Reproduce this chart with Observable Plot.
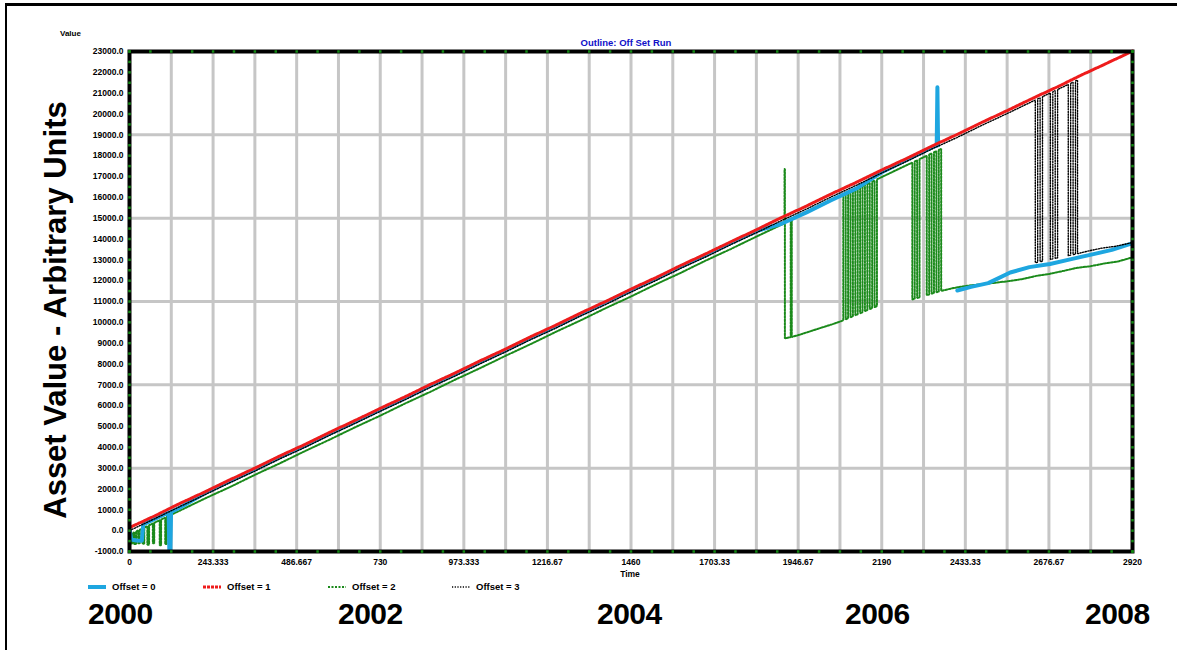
<!DOCTYPE html>
<html>
<head>
<meta charset="utf-8">
<script src="https://cdn.jsdelivr.net/npm/d3@7"></script>
<script src="https://cdn.jsdelivr.net/npm/@observablehq/plot@0.6"></script>
<style>
  html, body { margin: 0; padding: 0; background: #fff; }
  body { width: 1177px; height: 650px; position: relative; overflow: hidden; font-family: "Liberation Sans", Arial, sans-serif; }
  .abs { position: absolute; white-space: nowrap; }
  #frame { position: absolute; left: 5px; top: 3px; width: 1200px; height: 700px; border-left: 2px solid #000; border-top: 3px solid #000; }
  #chart { position: absolute; left: 0; top: 0; }
  .year { position: absolute; top: 597px; font: bold 30px "Liberation Sans", Arial, sans-serif; color: #000; letter-spacing: -0.5px; }
  .leg { position: absolute; top: 581px; font: bold 9.5px "Liberation Sans", Arial, sans-serif; color: #000; display: flex; align-items: center; gap: 6px; }
</style>
</head>
<body>
<div id="frame"></div>
<div id="chart"></div>
<div class="abs" style="left:60px; top:29px; font: bold 8px 'Liberation Sans', Arial, sans-serif;">Value</div>
<div class="abs" style="left:626px; top:37px; transform: translateX(-50%); font: bold 9.5px 'Liberation Sans', Arial, sans-serif; color:#1010c8;">Outline: Off Set Run</div>
<div class="abs" style="left:56px; top:310px; transform: translate(-50%,-50%) rotate(-90deg); font: bold 31px 'Liberation Sans', Arial, sans-serif; color:#000;">Asset Value - Arbitrary Units</div>
<div class="abs" style="left:630px; top:569px; transform: translateX(-50%); font: bold 8.5px 'Liberation Sans', Arial, sans-serif;">Time</div>
<div id="legend"></div>
<div id="years"></div>
<script>
// ---- data (x = days since start, y = asset value) ----
const seriesNames = ["Offset = 0", "Offset = 1", "Offset = 2", "Offset = 3"];
const seriesColors = ["#1ea6e0", "#ee1c1c", "#1b8a1b", "#000000"];
const yearLabels = ["2000", "2002", "2004", "2006", "2008"];
const yearLeft = [88, 338, 597, 845, 1085];

const offset1 = [[0,147],[73,705],[146,1300],[219,1858],[292,2440],[365,3001],[438,3590],[511,4140],[584,4731],[657,5290],[730,5872],[803,6430],[876,7020],[949,7575],[1022,8160],[1095,8719],[1168,9310],[1241,9862],[1314,10450],[1387,11008],[1460,11595],[1533,12150],[1606,12740],[1679,13296],[1752,13880],[1825,14440],[1898,15027],[1971,15583],[2044,16170],[2117,16728],[2190,17313],[2263,17870],[2336,18460],[2409,19015],[2482,19603],[2555,20160],[2628,20745],[2701,21300],[2774,21890],[2847,22448],[2920,23020]];

const offset0 = [[0,60],[5,-420],[20,-470],[36,-480],[40,300],[73,560],[114,870],[116,-1000],[119,-1000],[121,900],[146,1100],[219,1800],[292,2375],[365,2940],[438,3530],[511,4080],[584,4670],[657,5230],[730,5810],[803,6370],[876,6960],[949,7515],[1022,8100],[1095,8660],[1168,9250],[1241,9800],[1314,10390],[1387,10950],[1460,11540],[1533,12090],[1606,12680],[1679,13240],[1752,13820],[1825,14380],[1898,14730],[1971,15280],[2044,15870],[2117,16430],[2190,17200],[2263,17810],[2336,18400],[2350,18480],[2352,21280],[2354,18500],[2380,null],[2410,11530],[2450,11700],[2500,11880],[2564,12390],[2620,12650],[2680,12800],[2748,13060],[2800,13250],[2860,13480],[2914,13770],[2920,13800]];

const offset2 = [[0,-190],[4,-150],[4,-620],[9,-620],[9,-120],[14,-80],[14,-650],[19,-640],[19,-40],[25,10],[25,-600],[30,-610],[30,50],[38,110],[38,-640],[43,-620],[43,150],[52,220],[52,-680],[57,-670],[57,260],[68,345],[68,-600],[72,-600],[72,380],[88,500],[88,-700],[92,-700],[92,530],[104,630],[104,-650],[108,-640],[108,660],
  [146,956],[219,1540],[292,2090],[365,2680],[438,3235],[511,3820],[584,4380],[657,4965],[730,5520],[803,6110],[876,6665],[949,7255],[1022,7810],[1095,8395],[1168,8955],[1241,9540],[1314,10100],[1387,10685],[1460,11240],[1533,11830],[1606,12385],[1679,12975],[1752,13530],[1825,14115],[1898,14685],
  [1907,14740],[1907,17360],[1908,17360],[1908,9230],[1925,9290],[1925,14900],[1928,14920],[1928,9300],[1950,9400],[1980,9560],[2010,9720],[2045,9900],[2076,10080],
  [2078,10092],[2078,16095],[2085,16150],[2085,10141],[2092,10190],[2092,16205],[2099,16260],[2099,10240],[2106,10289],[2106,16315],[2113,16370],[2113,10338],[2120,10387],[2120,16425],[2127,16480],[2127,10436],[2134,10486],[2134,16534],[2141,16589],[2141,10535],[2148,10584],[2148,16644],[2155,16699],[2155,10633],[2162,10683],[2162,16754],[2169,16808],[2169,10732],[2176,10781],[2176,16863],
  [2200,17050],[2230,17290],[2260,17525],
  [2279,17670],[2279,11096],[2286,11131],[2286,17725],[2293,17780],[2293,11165],[2300,11200],[2300,17835],[2307,17889],[2321,17999],[2321,11303],[2328,11338],[2328,18054],[2335,18109],[2335,11373],[2342,11407],[2342,18164],[2349,18219],[2349,11442],[2356,11476],[2356,18274],[2363,18329],[2363,11511],
  [2400,11650],[2440,11760],[2480,11830],[2520,11900],[2560,11980],[2600,12080],[2640,12230],[2680,12330],[2720,12470],[2760,12620],[2800,12700],[2840,12830],[2880,12930],[2920,13120]];

const offset3 = [[0,4],[73,570],[146,1150],[219,1720],[292,2300],[365,2860],[438,3450],[511,4000],[584,4590],[657,5150],[730,5730],[803,6290],[876,6880],[949,7430],[1022,8020],[1095,8580],[1168,9170],[1241,9720],[1314,10310],[1387,10860],[1460,11450],[1533,12010],[1606,12600],[1679,13150],[1752,13740],[1825,14300],[1898,14885],[1971,15440],[2044,16030],[2117,16585],[2190,17170],[2263,17730],[2336,18320],[2409,18870],[2482,19460],[2555,20020],[2628,20600],
  [2637,20668],[2637,12865],[2644,12890],[2644,20723],[2651,20778],[2651,12914],[2658,12939],[2658,20833],[2670,20926],
  [2681,21012],[2681,13019],[2688,13044],[2688,21067],[2695,21122],[2695,13068],[2702,13093],[2702,21177],[2720,21318],
  [2733,21420],[2733,13200],[2740,13225],[2740,21475],[2747,21529],[2747,13250],[2754,13270],[2754,21584],[2760,21630],[2760,13295],
  [2790,13420],[2830,13560],[2870,13650],[2920,13830]];

// ---- scales / ticks ----
const xMax = 2920;
const yMin = -1000, yMax = 23000;
const xTicks = d3.range(0, 13).map(i => i * xMax / 12);
const xGrid = d3.range(0, 25).map(i => i * xMax / 24);
const yTicks = d3.range(yMin, yMax + 1, 1000);
const yGrid = d3.range(yMin, yMax + 1, 4000);
const xMinor = d3.range(0, 49).map(i => i * xMax / 48);
const yMinor = d3.range(0, 49).map(i => yMin + i * (yMax - yMin) / 48);

const toRows = s => s.map(([day, value]) => ({day, value}));
const fmtX = d3.format(".6~g");

const lineStyle = [
  {stroke: seriesColors[0], strokeWidth: 4},
  {stroke: seriesColors[1], strokeWidth: 3, strokeDasharray: "3,1"},
  {stroke: seriesColors[2], strokeWidth: 2, strokeDasharray: "2,1.5"},
  {stroke: seriesColors[3], strokeWidth: 1.4, strokeDasharray: "1.2,1.5"}
];

const green = "#138a13";
const plot = Plot.plot({
  width: 1177,
  height: 600,
  marginLeft: 129,
  marginRight: 45,
  marginTop: 51,
  marginBottom: 49,
  style: {fontFamily: "'Liberation Sans', Arial, sans-serif", background: "transparent"},
  x: {domain: [0, xMax], label: null},
  y: {domain: [yMin, yMax], label: null},
  marks: [
    Plot.gridX(xGrid, {stroke: "#c6c6c6", strokeOpacity: 1, strokeWidth: 3}),
    Plot.gridY(yGrid, {stroke: "#c6c6c6", strokeOpacity: 1, strokeWidth: 3}),
    Plot.line(toRows(offset2), {x: "day", y: "value", ...lineStyle[2], strokeLinejoin: "miter"}),
    Plot.line(toRows(offset0), {x: "day", y: "value", ...lineStyle[0], clip: true}),
    Plot.line(toRows(offset3), {x: "day", y: "value", ...lineStyle[3], strokeLinejoin: "miter"}),
    Plot.line(toRows(offset1), {x: "day", y: "value", ...lineStyle[1]}),
    Plot.frame({stroke: "#000", strokeWidth: 4}),
    Plot.dot(xMinor, {x: d => d, y: () => yMin, symbol: "square", r: 1.4, fill: green, stroke: null}),
    Plot.dot(xMinor, {x: d => d, y: () => yMax, symbol: "square", r: 1.4, fill: green, stroke: null}),
    Plot.dot(yMinor, {x: () => 0, y: d => d, symbol: "square", r: 1.4, fill: green, stroke: null}),
    Plot.dot(yMinor, {x: () => xMax, y: d => d, symbol: "square", r: 1.4, fill: green, stroke: null}),
    Plot.axisY(yTicks, {tickSize: 0, tickPadding: 6, tickFormat: d => d.toFixed(1), fontSize: 8.5, fontWeight: "bold", label: null}),
    Plot.axisX(xTicks, {tickSize: 0, tickPadding: 7, tickFormat: fmtX, fontSize: 8.5, fontWeight: "bold", label: null})
  ]
});
document.getElementById("chart").appendChild(plot);

// ---- legend ----
const legendLeft = [88, 203, 328, 452];
const legend = document.getElementById("legend");
seriesNames.forEach((name, i) => {
  const el = document.createElement("div");
  el.className = "leg";
  el.style.left = legendLeft[i] + "px";
  const st = lineStyle[i];
  el.innerHTML = `<svg width="18" height="8"><line x1="0" x2="18" y1="4" y2="4" stroke="${st.stroke}" stroke-width="${st.strokeWidth}" ${st.strokeDasharray ? `stroke-dasharray="${st.strokeDasharray}"` : ""}/></svg><span>${name}</span>`;
  legend.appendChild(el);
});

// ---- year labels ----
const years = document.getElementById("years");
yearLabels.forEach((y, i) => {
  const el = document.createElement("div");
  el.className = "year";
  el.style.left = yearLeft[i] + "px";
  el.textContent = y;
  years.appendChild(el);
});
</script>
</body>
</html>
